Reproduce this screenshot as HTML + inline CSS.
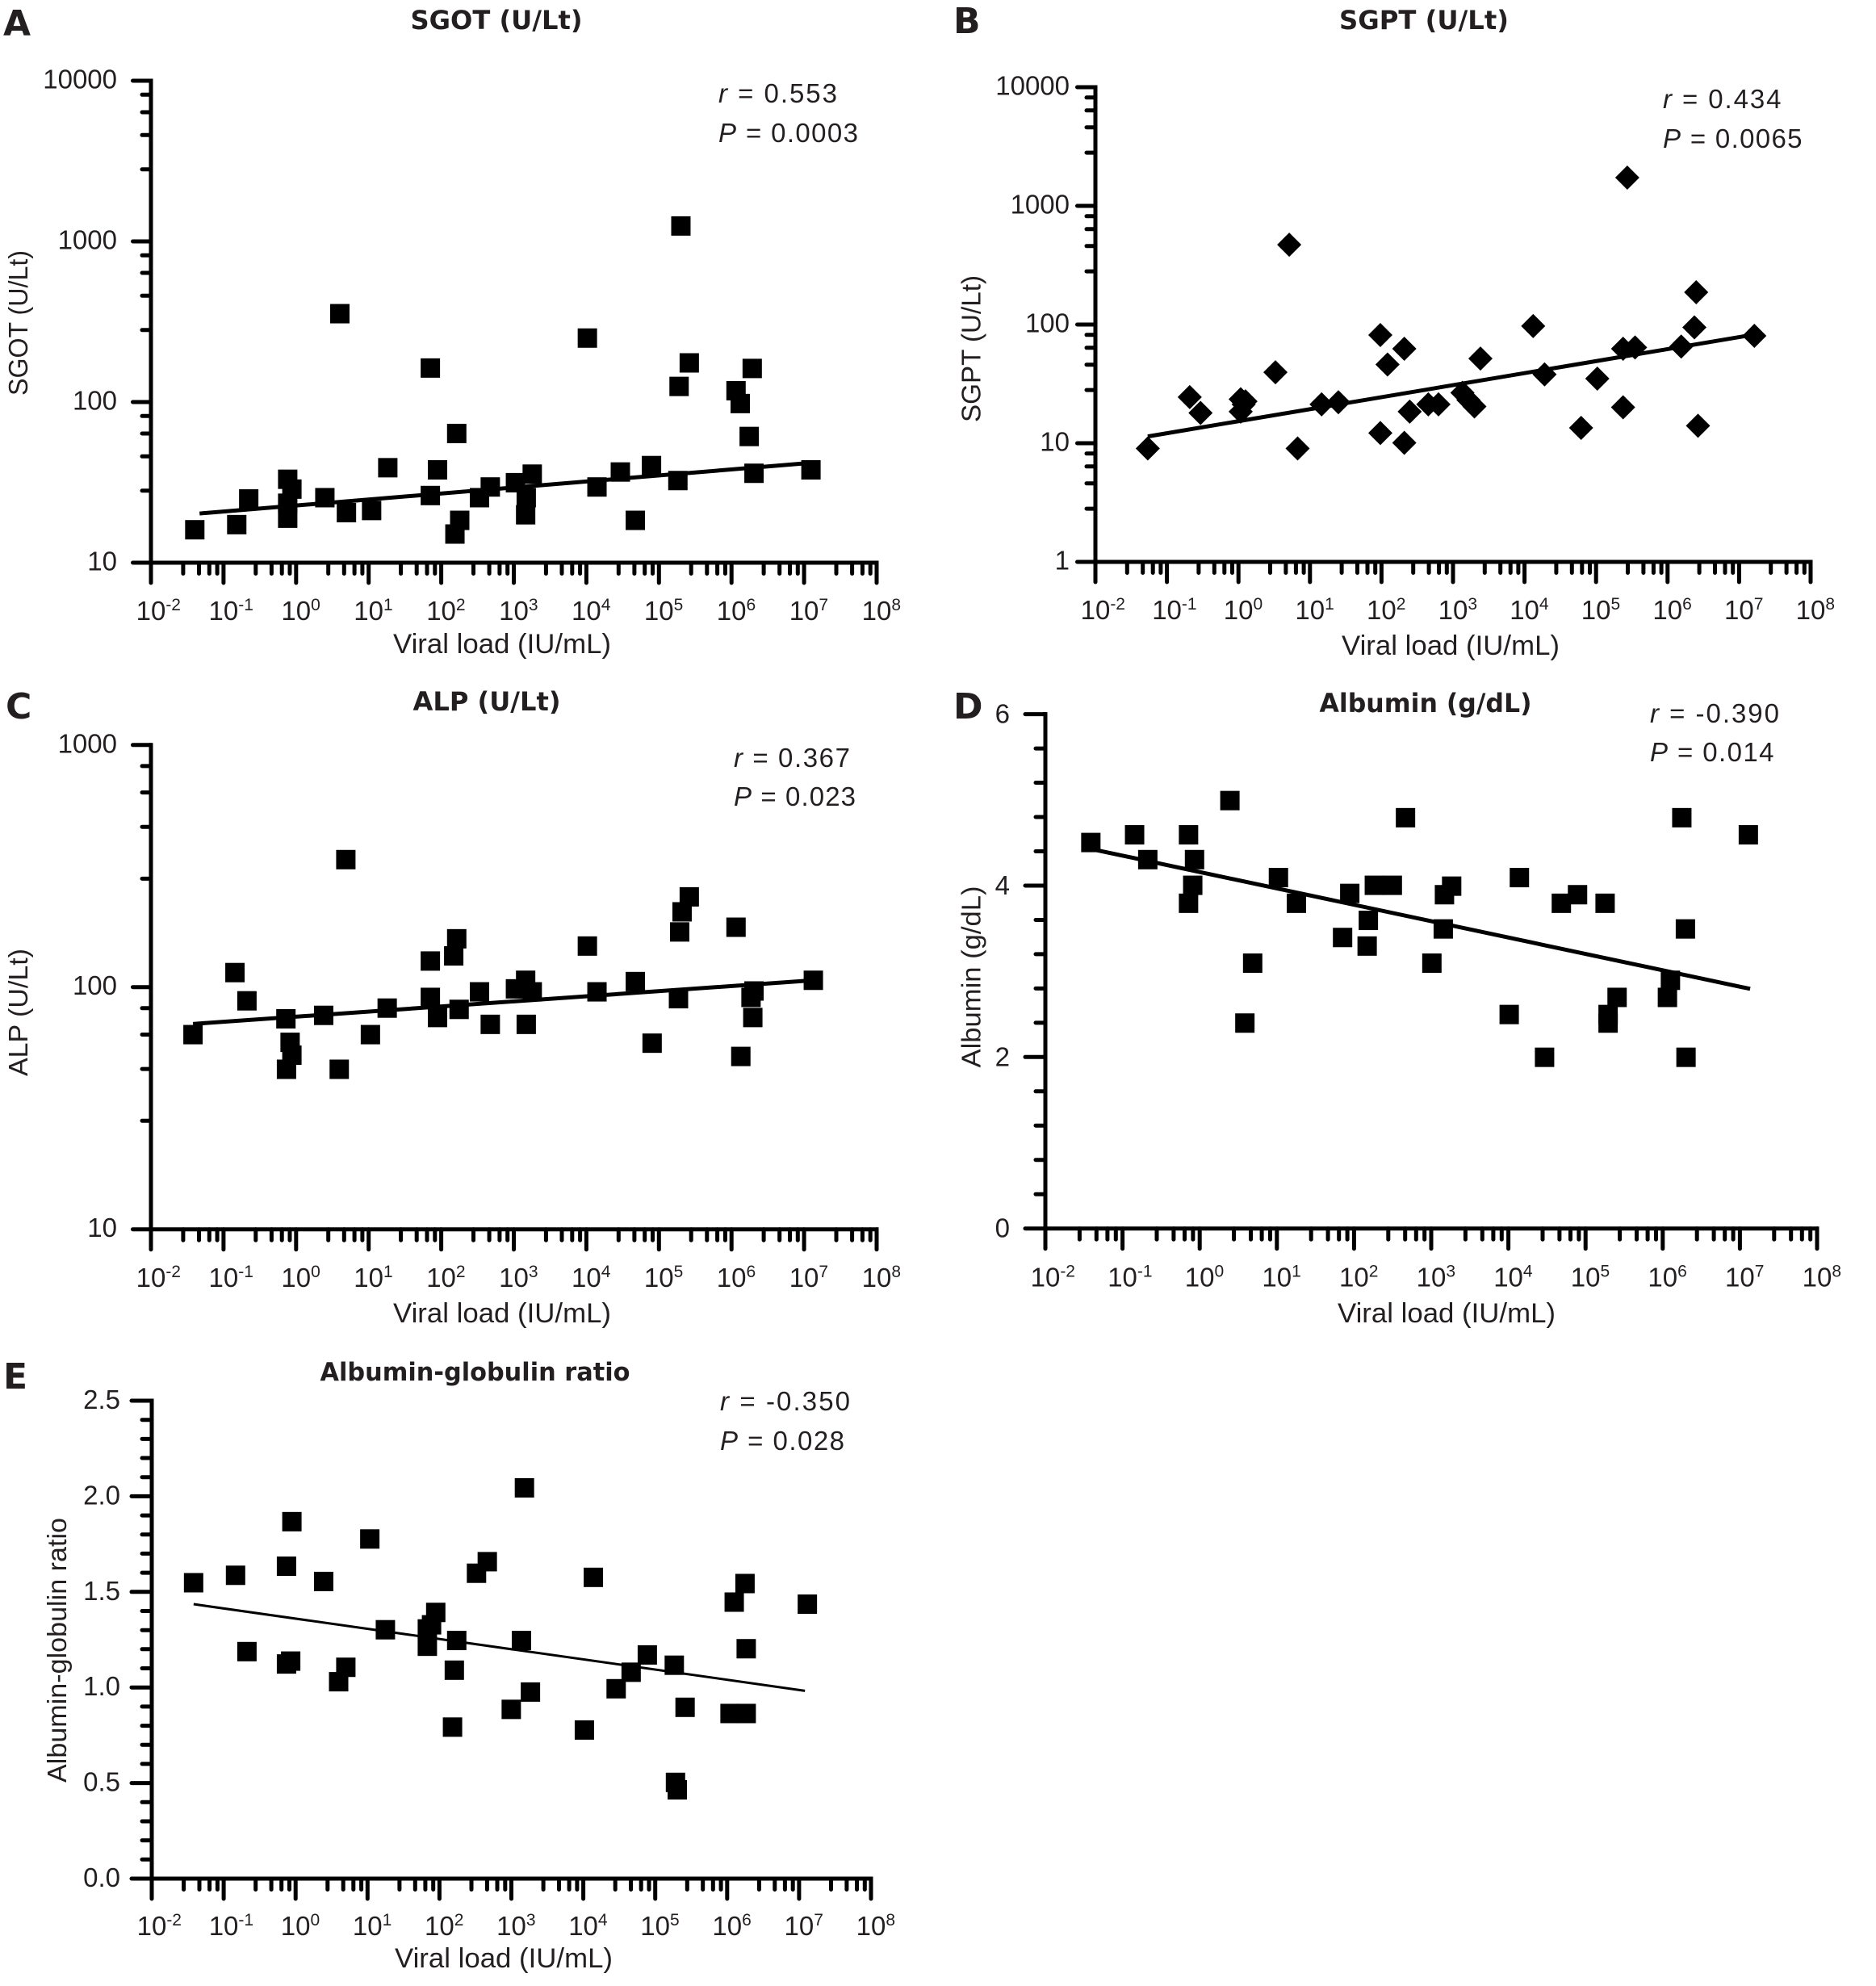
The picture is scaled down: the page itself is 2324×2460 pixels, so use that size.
<!DOCTYPE html>
<html>
<head>
<meta charset="utf-8">
<style>
html,body{margin:0;padding:0;background:#fff;}
svg{display:block;}
.t{font-family:"Liberation Sans",Arial,sans-serif;fill:#231f20;}
.b{font-family:"DejaVu Sans","Liberation Sans",sans-serif;font-weight:bold;fill:#231f20;}
</style>
</head>
<body>
<svg xmlns="http://www.w3.org/2000/svg" xmlns:xlink="http://www.w3.org/1999/xlink" width="2324" height="2460" viewBox="0 0 2324 2460">
<defs>
  <rect id="sq" x="-16.15" y="-22.65" width="32.3" height="45.3"/>
  <rect id="sqE" x="-16.15" y="-23.5" width="32.3" height="47"/>
  <polygon id="dm" points="0,-28.3 20.2,0 0,28.3 -20.2,0"/>
  <path id="xdA" d="M39.9 0v13.5M59.5 0v13.5M72.3 0v13.5M82.1 0v13.5"/>
  <path id="xdB" d="M39.3 0v13.5M58.7 0v13.5M71.2 0v13.5M80.9 0v13.5"/>
  <path id="xdD" d="M42.4 0v13.5M63.3 0v13.5M76.9 0v13.5M87.3 0v13.5"/>
  <path id="xdE" d="M39.6 0v13.5M59.0 0v13.5M71.6 0v13.5M81.4 0v13.5"/>
  <path id="ydA" d="M0 17.3h-11M0 39.0h-11M0 67.3h-11M0 109.8h-11"/>
  <path id="ydB" d="M0 12.8h-11M0 28.8h-11M0 49.7h-11M0 81.1h-11"/>
  <path id="ydC" d="M0 26.1h-11M0 58.8h-11M0 101.4h-11M0 165.6h-11"/>
  <path id="ydD" d="M0 42.5h-12M0 84.9h-12M0 127.4h-12M0 169.9h-12"/>
  <path id="ydE" d="M0 23.7h-12M0 47.4h-12M0 71.0h-12M0 94.7h-12"/>
</defs>
<rect x="0" y="0" width="2324" height="2460" fill="#fff"/>

<!-- ================= PANEL A ================= -->
<g stroke="#000" stroke-width="5" fill="none" stroke-linecap="round">
  <path d="M187 100V697H1086" stroke-linejoin="miter" stroke-linecap="square"/>
  <path d="M187 100h-22.5M187 299h-22.5M187 498h-22.5M187 697h-22.5"/>
  <use href="#ydA" xlink:href="#ydA" x="187" y="100"/>
  <use href="#ydA" xlink:href="#ydA" x="187" y="299"/>
  <use href="#ydA" xlink:href="#ydA" x="187" y="498"/>
  <path d="M187 697v25M276.9 697v25M366.8 697v25M456.7 697v25M546.6 697v25M636.5 697v25M726.4 697v25M816.3 697v25M906.2 697v25M996.1 697v25M1086 697v25"/>
  <use href="#xdA" xlink:href="#xdA" x="187" y="697"/>
  <use href="#xdA" xlink:href="#xdA" x="276.9" y="697"/>
  <use href="#xdA" xlink:href="#xdA" x="366.8" y="697"/>
  <use href="#xdA" xlink:href="#xdA" x="456.7" y="697"/>
  <use href="#xdA" xlink:href="#xdA" x="546.6" y="697"/>
  <use href="#xdA" xlink:href="#xdA" x="636.5" y="697"/>
  <use href="#xdA" xlink:href="#xdA" x="726.4" y="697"/>
  <use href="#xdA" xlink:href="#xdA" x="816.3" y="697"/>
  <use href="#xdA" xlink:href="#xdA" x="906.2" y="697"/>
  <use href="#xdA" xlink:href="#xdA" x="996.1" y="697"/>
</g>
<g transform="translate(0,-1) scale(0.7425,0.53)" fill="#000">
  <path d="M333 1202L1350 1084" stroke="#000" stroke-width="5" vector-effect="non-scaling-stroke" fill="none"/>
  <use href="#sq" xlink:href="#sq" x="325" y="1240"/>
  <use href="#sq" xlink:href="#sq" x="395" y="1228"/>
  <use href="#sq" xlink:href="#sq" x="415" y="1168"/>
  <use href="#sq" xlink:href="#sq" x="480" y="1122"/>
  <use href="#sq" xlink:href="#sq" x="487" y="1145"/>
  <use href="#sq" xlink:href="#sq" x="480" y="1178"/>
  <use href="#sq" xlink:href="#sq" x="480" y="1213"/>
  <use href="#sq" xlink:href="#sq" x="542" y="1165"/>
  <use href="#sq" xlink:href="#sq" x="567" y="735"/>
  <use href="#sq" xlink:href="#sq" x="578" y="1200"/>
  <use href="#sq" xlink:href="#sq" x="620" y="1195"/>
  <use href="#sq" xlink:href="#sq" x="647" y="1095"/>
  <use href="#sq" xlink:href="#sq" x="718" y="862"/>
  <use href="#sq" xlink:href="#sq" x="718" y="1160"/>
  <use href="#sq" xlink:href="#sq" x="730" y="1100"/>
  <use href="#sq" xlink:href="#sq" x="762" y="1015"/>
  <use href="#sq" xlink:href="#sq" x="767" y="1218"/>
  <use href="#sq" xlink:href="#sq" x="759" y="1250"/>
  <use href="#sq" xlink:href="#sq" x="800" y="1165"/>
  <use href="#sq" xlink:href="#sq" x="818" y="1140"/>
  <use href="#sq" xlink:href="#sq" x="860" y="1130"/>
  <use href="#sq" xlink:href="#sq" x="878" y="1165"/>
  <use href="#sq" xlink:href="#sq" x="877" y="1205"/>
  <use href="#sq" xlink:href="#sq" x="888" y="1110"/>
  <use href="#sq" xlink:href="#sq" x="980" y="792"/>
  <use href="#sq" xlink:href="#sq" x="996" y="1140"/>
  <use href="#sq" xlink:href="#sq" x="1035" y="1105"/>
  <use href="#sq" xlink:href="#sq" x="1060" y="1218"/>
  <use href="#sq" xlink:href="#sq" x="1087" y="1090"/>
  <use href="#sq" xlink:href="#sq" x="1136" y="530"/>
  <use href="#sq" xlink:href="#sq" x="1133" y="905"/>
  <use href="#sq" xlink:href="#sq" x="1131" y="1125"/>
  <use href="#sq" xlink:href="#sq" x="1150" y="850"/>
  <use href="#sq" xlink:href="#sq" x="1228" y="915"/>
  <use href="#sq" xlink:href="#sq" x="1235" y="945"/>
  <use href="#sq" xlink:href="#sq" x="1255" y="863"/>
  <use href="#sq" xlink:href="#sq" x="1250" y="1022"/>
  <use href="#sq" xlink:href="#sq" x="1258" y="1108"/>
  <use href="#sq" xlink:href="#sq" x="1353" y="1100"/>
</g>
<text class="b" x="4" y="44" font-size="44">A</text>
<text class="b" x="615" y="36" font-size="32" text-anchor="middle" textLength="213" lengthAdjust="spacingAndGlyphs">SGOT (U/Lt)</text>
<g class="t" font-size="33" text-anchor="end">
  <text x="145" y="109.5">10000</text>
  <text x="145" y="308.5">1000</text>
  <text x="145" y="507.5">100</text>
  <text x="145" y="706.5">10</text>
</g>
<g class="t" font-size="33">
  <text x="168.6" y="768">10<tspan font-size="21" dy="-12">-2</tspan></text>
  <text x="258.5" y="768">10<tspan font-size="21" dy="-12">-1</tspan></text>
  <text x="348.4" y="768">10<tspan font-size="21" dy="-12">0</tspan></text>
  <text x="438.3" y="768">10<tspan font-size="21" dy="-12">1</tspan></text>
  <text x="528.2" y="768">10<tspan font-size="21" dy="-12">2</tspan></text>
  <text x="618.1" y="768">10<tspan font-size="21" dy="-12">3</tspan></text>
  <text x="708" y="768">10<tspan font-size="21" dy="-12">4</tspan></text>
  <text x="797.9" y="768">10<tspan font-size="21" dy="-12">5</tspan></text>
  <text x="887.8" y="768">10<tspan font-size="21" dy="-12">6</tspan></text>
  <text x="977.7" y="768">10<tspan font-size="21" dy="-12">7</tspan></text>
  <text x="1067.6" y="768">10<tspan font-size="21" dy="-12">8</tspan></text>
</g>
<text class="t" x="622" y="809" font-size="34" text-anchor="middle" textLength="270" lengthAdjust="spacingAndGlyphs">Viral load (IU/mL)</text>
<text class="t" transform="translate(34,400) rotate(-90)" font-size="33" text-anchor="middle" textLength="180" lengthAdjust="spacingAndGlyphs">SGOT (U/Lt)</text>
<text class="t" x="890" y="127" font-size="33" textLength="147" lengthAdjust="spacing"><tspan font-style="italic">r</tspan> = 0.553</text>
<text class="t" x="890" y="176" font-size="33" textLength="173" lengthAdjust="spacing"><tspan font-style="italic">P</tspan> = 0.0003</text>

<!-- ================= PANEL B ================= -->
<g stroke="#000" stroke-width="5" fill="none" stroke-linecap="round">
  <path d="M1357 108V696H2243" stroke-linejoin="miter" stroke-linecap="square"/>
  <path d="M1357 108h-22.5M1357 255h-22.5M1357 402h-22.5M1357 549h-22.5M1357 696h-22.5"/>
  <use href="#ydB" xlink:href="#ydB" x="1357" y="108"/>
  <use href="#ydB" xlink:href="#ydB" x="1357" y="255"/>
  <use href="#ydB" xlink:href="#ydB" x="1357" y="402"/>
  <use href="#ydB" xlink:href="#ydB" x="1357" y="549"/>
  <path d="M1357 696v25M1445.6 696v25M1534.2 696v25M1622.8 696v25M1711.4 696v25M1800 696v25M1888.6 696v25M1977.2 696v25M2065.8 696v25M2154.4 696v25M2243 696v25"/>
  <use href="#xdB" xlink:href="#xdB" x="1357" y="696"/>
  <use href="#xdB" xlink:href="#xdB" x="1445.6" y="696"/>
  <use href="#xdB" xlink:href="#xdB" x="1534.2" y="696"/>
  <use href="#xdB" xlink:href="#xdB" x="1622.8" y="696"/>
  <use href="#xdB" xlink:href="#xdB" x="1711.4" y="696"/>
  <use href="#xdB" xlink:href="#xdB" x="1800" y="696"/>
  <use href="#xdB" xlink:href="#xdB" x="1888.6" y="696"/>
  <use href="#xdB" xlink:href="#xdB" x="1977.2" y="696"/>
  <use href="#xdB" xlink:href="#xdB" x="2065.8" y="696"/>
  <use href="#xdB" xlink:href="#xdB" x="2154.4" y="696"/>
</g>
<g transform="translate(1162,0) scale(0.7425,0.53)" fill="#000">
  <path d="M350 1020L1357 783" stroke="#000" stroke-width="5" vector-effect="non-scaling-stroke" fill="none"/>
  <use href="#dm" xlink:href="#dm" x="350" y="1048"/>
  <use href="#dm" xlink:href="#dm" x="420" y="928"/>
  <use href="#dm" xlink:href="#dm" x="438" y="965"/>
  <use href="#dm" xlink:href="#dm" x="505" y="933"/>
  <use href="#dm" xlink:href="#dm" x="505" y="962"/>
  <use href="#dm" xlink:href="#dm" x="510" y="945"/>
  <use href="#dm" xlink:href="#dm" x="513" y="938"/>
  <use href="#dm" xlink:href="#dm" x="563" y="870"/>
  <use href="#dm" xlink:href="#dm" x="586" y="572"/>
  <use href="#dm" xlink:href="#dm" x="600" y="1048"/>
  <use href="#dm" xlink:href="#dm" x="640" y="945"/>
  <use href="#dm" xlink:href="#dm" x="668" y="940"/>
  <use href="#dm" xlink:href="#dm" x="738" y="783"/>
  <use href="#dm" xlink:href="#dm" x="738" y="1012"/>
  <use href="#dm" xlink:href="#dm" x="750" y="852"/>
  <use href="#dm" xlink:href="#dm" x="778" y="815"/>
  <use href="#dm" xlink:href="#dm" x="778" y="1035"/>
  <use href="#dm" xlink:href="#dm" x="787" y="962"/>
  <use href="#dm" xlink:href="#dm" x="818" y="945"/>
  <use href="#dm" xlink:href="#dm" x="835" y="945"/>
  <use href="#dm" xlink:href="#dm" x="875" y="918"/>
  <use href="#dm" xlink:href="#dm" x="885" y="935"/>
  <use href="#dm" xlink:href="#dm" x="895" y="950"/>
  <use href="#dm" xlink:href="#dm" x="905" y="838"/>
  <use href="#dm" xlink:href="#dm" x="993" y="762"/>
  <use href="#dm" xlink:href="#dm" x="1012" y="875"/>
  <use href="#dm" xlink:href="#dm" x="1073" y="1000"/>
  <use href="#dm" xlink:href="#dm" x="1100" y="885"/>
  <use href="#dm" xlink:href="#dm" x="1143" y="952"/>
  <use href="#dm" xlink:href="#dm" x="1143" y="815"/>
  <use href="#dm" xlink:href="#dm" x="1150" y="415"/>
  <use href="#dm" xlink:href="#dm" x="1163" y="812"/>
  <use href="#dm" xlink:href="#dm" x="1240" y="810"/>
  <use href="#dm" xlink:href="#dm" x="1262" y="765"/>
  <use href="#dm" xlink:href="#dm" x="1265" y="683"/>
  <use href="#dm" xlink:href="#dm" x="1268" y="995"/>
  <use href="#dm" xlink:href="#dm" x="1362" y="785"/>
</g>
<text class="b" x="1181" y="41" font-size="44">B</text>
<text class="b" x="1764" y="36" font-size="32" text-anchor="middle" textLength="210" lengthAdjust="spacingAndGlyphs">SGPT (U/Lt)</text>
<g class="t" font-size="33" text-anchor="end">
  <text x="1325" y="117.5">10000</text>
  <text x="1325" y="264.5">1000</text>
  <text x="1325" y="411.5">100</text>
  <text x="1325" y="558.5">10</text>
  <text x="1325" y="705.5">1</text>
</g>
<g class="t" font-size="33">
  <text x="1338.6" y="767">10<tspan font-size="21" dy="-12">-2</tspan></text>
  <text x="1427.2" y="767">10<tspan font-size="21" dy="-12">-1</tspan></text>
  <text x="1515.8" y="767">10<tspan font-size="21" dy="-12">0</tspan></text>
  <text x="1604.4" y="767">10<tspan font-size="21" dy="-12">1</tspan></text>
  <text x="1693" y="767">10<tspan font-size="21" dy="-12">2</tspan></text>
  <text x="1781.6" y="767">10<tspan font-size="21" dy="-12">3</tspan></text>
  <text x="1870.2" y="767">10<tspan font-size="21" dy="-12">4</tspan></text>
  <text x="1958.8" y="767">10<tspan font-size="21" dy="-12">5</tspan></text>
  <text x="2047.4" y="767">10<tspan font-size="21" dy="-12">6</tspan></text>
  <text x="2136" y="767">10<tspan font-size="21" dy="-12">7</tspan></text>
  <text x="2224.6" y="767">10<tspan font-size="21" dy="-12">8</tspan></text>
</g>
<text class="t" x="1797" y="811" font-size="34" text-anchor="middle" textLength="270" lengthAdjust="spacingAndGlyphs">Viral load (IU/mL)</text>
<text class="t" transform="translate(1214.5,432) rotate(-90)" font-size="33" text-anchor="middle" textLength="182" lengthAdjust="spacingAndGlyphs">SGPT (U/Lt)</text>
<text class="t" x="2060" y="134" font-size="33" textLength="146.5" lengthAdjust="spacing"><tspan font-style="italic">r</tspan> = 0.434</text>
<text class="t" x="2060" y="183" font-size="33" textLength="172.5" lengthAdjust="spacing"><tspan font-style="italic">P</tspan> = 0.0065</text>

<!-- ================= PANEL C ================= -->
<g stroke="#000" stroke-width="5" fill="none" stroke-linecap="round">
  <path d="M187 922.8V1522.7H1086" stroke-linejoin="miter" stroke-linecap="square"/>
  <path d="M187 922.8h-22.5M187 1222.7h-22.5M187 1522.7h-22.5"/>
  <use href="#ydC" xlink:href="#ydC" x="187" y="922.8"/>
  <use href="#ydC" xlink:href="#ydC" x="187" y="1222.7"/>
  <path d="M187 1522.7v25M276.9 1522.7v25M366.8 1522.7v25M456.7 1522.7v25M546.6 1522.7v25M636.5 1522.7v25M726.4 1522.7v25M816.3 1522.7v25M906.2 1522.7v25M996.1 1522.7v25M1086 1522.7v25"/>
  <use href="#xdA" xlink:href="#xdA" x="187" y="1522.7"/>
  <use href="#xdA" xlink:href="#xdA" x="276.9" y="1522.7"/>
  <use href="#xdA" xlink:href="#xdA" x="366.8" y="1522.7"/>
  <use href="#xdA" xlink:href="#xdA" x="456.7" y="1522.7"/>
  <use href="#xdA" xlink:href="#xdA" x="546.6" y="1522.7"/>
  <use href="#xdA" xlink:href="#xdA" x="636.5" y="1522.7"/>
  <use href="#xdA" xlink:href="#xdA" x="726.4" y="1522.7"/>
  <use href="#xdA" xlink:href="#xdA" x="816.3" y="1522.7"/>
  <use href="#xdA" xlink:href="#xdA" x="906.2" y="1522.7"/>
  <use href="#xdA" xlink:href="#xdA" x="996.1" y="1522.7"/>
</g>
<g transform="translate(0,830) scale(0.7425,0.53)" fill="#000">
  <path d="M322 827L1357 725" stroke="#000" stroke-width="5" vector-effect="non-scaling-stroke" fill="none"/>
  <use href="#sq" xlink:href="#sq" x="322" y="852"/>
  <use href="#sq" xlink:href="#sq" x="392" y="707"/>
  <use href="#sq" xlink:href="#sq" x="412" y="773"/>
  <use href="#sq" xlink:href="#sq" x="477" y="815"/>
  <use href="#sq" xlink:href="#sq" x="484" y="870"/>
  <use href="#sq" xlink:href="#sq" x="487" y="900"/>
  <use href="#sq" xlink:href="#sq" x="478" y="933"/>
  <use href="#sq" xlink:href="#sq" x="540" y="807"/>
  <use href="#sq" xlink:href="#sq" x="566" y="933"/>
  <use href="#sq" xlink:href="#sq" x="577" y="443"/>
  <use href="#sq" xlink:href="#sq" x="618" y="852"/>
  <use href="#sq" xlink:href="#sq" x="646" y="790"/>
  <use href="#sq" xlink:href="#sq" x="718" y="680"/>
  <use href="#sq" xlink:href="#sq" x="718" y="765"/>
  <use href="#sq" xlink:href="#sq" x="730" y="812"/>
  <use href="#sq" xlink:href="#sq" x="757" y="668"/>
  <use href="#sq" xlink:href="#sq" x="762" y="628"/>
  <use href="#sq" xlink:href="#sq" x="766" y="793"/>
  <use href="#sq" xlink:href="#sq" x="800" y="752"/>
  <use href="#sq" xlink:href="#sq" x="818" y="828"/>
  <use href="#sq" xlink:href="#sq" x="860" y="745"/>
  <use href="#sq" xlink:href="#sq" x="877" y="725"/>
  <use href="#sq" xlink:href="#sq" x="878" y="828"/>
  <use href="#sq" xlink:href="#sq" x="888" y="752"/>
  <use href="#sq" xlink:href="#sq" x="980" y="645"/>
  <use href="#sq" xlink:href="#sq" x="996" y="752"/>
  <use href="#sq" xlink:href="#sq" x="1060" y="728"/>
  <use href="#sq" xlink:href="#sq" x="1088" y="872"/>
  <use href="#sq" xlink:href="#sq" x="1132" y="768"/>
  <use href="#sq" xlink:href="#sq" x="1134" y="612"/>
  <use href="#sq" xlink:href="#sq" x="1138" y="565"/>
  <use href="#sq" xlink:href="#sq" x="1150" y="530"/>
  <use href="#sq" xlink:href="#sq" x="1228" y="601"/>
  <use href="#sq" xlink:href="#sq" x="1236" y="903"/>
  <use href="#sq" xlink:href="#sq" x="1253" y="765"/>
  <use href="#sq" xlink:href="#sq" x="1258" y="750"/>
  <use href="#sq" xlink:href="#sq" x="1256" y="812"/>
  <use href="#sq" xlink:href="#sq" x="1357" y="725"/>
</g>
<text class="b" x="7" y="890" font-size="44">C</text>
<text class="b" x="603" y="880" font-size="32" text-anchor="middle" textLength="183" lengthAdjust="spacingAndGlyphs">ALP (U/Lt)</text>
<g class="t" font-size="33" text-anchor="end">
  <text x="145" y="932.3">1000</text>
  <text x="145" y="1232.2">100</text>
  <text x="145" y="1532.2">10</text>
</g>
<g class="t" font-size="33">
  <text x="168.6" y="1594">10<tspan font-size="21" dy="-12">-2</tspan></text>
  <text x="258.5" y="1594">10<tspan font-size="21" dy="-12">-1</tspan></text>
  <text x="348.4" y="1594">10<tspan font-size="21" dy="-12">0</tspan></text>
  <text x="438.3" y="1594">10<tspan font-size="21" dy="-12">1</tspan></text>
  <text x="528.2" y="1594">10<tspan font-size="21" dy="-12">2</tspan></text>
  <text x="618.1" y="1594">10<tspan font-size="21" dy="-12">3</tspan></text>
  <text x="708" y="1594">10<tspan font-size="21" dy="-12">4</tspan></text>
  <text x="797.9" y="1594">10<tspan font-size="21" dy="-12">5</tspan></text>
  <text x="887.8" y="1594">10<tspan font-size="21" dy="-12">6</tspan></text>
  <text x="977.7" y="1594">10<tspan font-size="21" dy="-12">7</tspan></text>
  <text x="1067.6" y="1594">10<tspan font-size="21" dy="-12">8</tspan></text>
</g>
<text class="t" x="622" y="1638" font-size="34" text-anchor="middle" textLength="270" lengthAdjust="spacingAndGlyphs">Viral load (IU/mL)</text>
<text class="t" transform="translate(34,1254) rotate(-90)" font-size="33" text-anchor="middle" textLength="158" lengthAdjust="spacingAndGlyphs">ALP (U/Lt)</text>
<text class="t" x="909" y="950" font-size="33" textLength="144" lengthAdjust="spacing"><tspan font-style="italic">r</tspan> = 0.367</text>
<text class="t" x="909" y="998" font-size="33" textLength="151" lengthAdjust="spacing"><tspan font-style="italic">P</tspan> = 0.023</text>

<!-- ================= PANEL D ================= -->
<g stroke="#000" stroke-width="5" fill="none" stroke-linecap="round">
  <path d="M1295 884.6V1521.7H2251" stroke-linejoin="miter" stroke-linecap="square"/>
  <path d="M1295 884.6h-25M1295 1097h-25M1295 1309.3h-25M1295 1521.7h-25"/>
  <use href="#ydD" xlink:href="#ydD" x="1295" y="884.6"/>
  <use href="#ydD" xlink:href="#ydD" x="1295" y="1097"/>
  <use href="#ydD" xlink:href="#ydD" x="1295" y="1309.3"/>
  <path d="M1295 1521.7v25M1390.6 1521.7v25M1486.2 1521.7v25M1581.8 1521.7v25M1677.4 1521.7v25M1773 1521.7v25M1868.6 1521.7v25M1964.2 1521.7v25M2059.8 1521.7v25M2155.4 1521.7v25M2251 1521.7v25"/>
  <use href="#xdD" xlink:href="#xdD" x="1295" y="1521.7"/>
  <use href="#xdD" xlink:href="#xdD" x="1390.6" y="1521.7"/>
  <use href="#xdD" xlink:href="#xdD" x="1486.2" y="1521.7"/>
  <use href="#xdD" xlink:href="#xdD" x="1581.8" y="1521.7"/>
  <use href="#xdD" xlink:href="#xdD" x="1677.4" y="1521.7"/>
  <use href="#xdD" xlink:href="#xdD" x="1773" y="1521.7"/>
  <use href="#xdD" xlink:href="#xdD" x="1868.6" y="1521.7"/>
  <use href="#xdD" xlink:href="#xdD" x="1964.2" y="1521.7"/>
  <use href="#xdD" xlink:href="#xdD" x="2059.8" y="1521.7"/>
  <use href="#xdD" xlink:href="#xdD" x="2155.4" y="1521.7"/>
</g>
<g transform="translate(1162,830) scale(0.7425,0.53)" fill="#000">
  <path d="M255 418L1355 745" stroke="#000" stroke-width="5" vector-effect="non-scaling-stroke" fill="none"/>
  <use href="#sq" xlink:href="#sq" x="255" y="403"/>
  <use href="#sq" xlink:href="#sq" x="328" y="385"/>
  <use href="#sq" xlink:href="#sq" x="350" y="443"/>
  <use href="#sq" xlink:href="#sq" x="418" y="385"/>
  <use href="#sq" xlink:href="#sq" x="428" y="443"/>
  <use href="#sq" xlink:href="#sq" x="425" y="503"/>
  <use href="#sq" xlink:href="#sq" x="418" y="545"/>
  <use href="#sq" xlink:href="#sq" x="487" y="305"/>
  <use href="#sq" xlink:href="#sq" x="525" y="685"/>
  <use href="#sq" xlink:href="#sq" x="512" y="825"/>
  <use href="#sq" xlink:href="#sq" x="568" y="485"/>
  <use href="#sq" xlink:href="#sq" x="598" y="545"/>
  <use href="#sq" xlink:href="#sq" x="675" y="625"/>
  <use href="#sq" xlink:href="#sq" x="687" y="522"/>
  <use href="#sq" xlink:href="#sq" x="718" y="585"/>
  <use href="#sq" xlink:href="#sq" x="716" y="645"/>
  <use href="#sq" xlink:href="#sq" x="728" y="503"/>
  <use href="#sq" xlink:href="#sq" x="758" y="503"/>
  <use href="#sq" xlink:href="#sq" x="780" y="345"/>
  <use href="#sq" xlink:href="#sq" x="824" y="685"/>
  <use href="#sq" xlink:href="#sq" x="845" y="525"/>
  <use href="#sq" xlink:href="#sq" x="843" y="605"/>
  <use href="#sq" xlink:href="#sq" x="857" y="505"/>
  <use href="#sq" xlink:href="#sq" x="953" y="805"/>
  <use href="#sq" xlink:href="#sq" x="970" y="485"/>
  <use href="#sq" xlink:href="#sq" x="1012" y="905"/>
  <use href="#sq" xlink:href="#sq" x="1040" y="545"/>
  <use href="#sq" xlink:href="#sq" x="1067" y="525"/>
  <use href="#sq" xlink:href="#sq" x="1113" y="545"/>
  <use href="#sq" xlink:href="#sq" x="1118" y="805"/>
  <use href="#sq" xlink:href="#sq" x="1118" y="825"/>
  <use href="#sq" xlink:href="#sq" x="1133" y="765"/>
  <use href="#sq" xlink:href="#sq" x="1217" y="765"/>
  <use href="#sq" xlink:href="#sq" x="1222" y="725"/>
  <use href="#sq" xlink:href="#sq" x="1241" y="345"/>
  <use href="#sq" xlink:href="#sq" x="1247" y="605"/>
  <use href="#sq" xlink:href="#sq" x="1248" y="905"/>
  <use href="#sq" xlink:href="#sq" x="1352" y="385"/>
</g>
<text class="b" x="1181" y="890" font-size="44">D</text>
<text class="b" x="1766" y="882" font-size="32" text-anchor="middle" textLength="263" lengthAdjust="spacingAndGlyphs">Albumin (g/dL)</text>
<g class="t" font-size="33" text-anchor="end">
  <text x="1251" y="895.6">6</text>
  <text x="1251" y="1108">4</text>
  <text x="1251" y="1320.3">2</text>
  <text x="1251" y="1532.7">0</text>
</g>
<g class="t" font-size="33">
  <text x="1276.6" y="1593.7">10<tspan font-size="21" dy="-12">-2</tspan></text>
  <text x="1372.2" y="1593.7">10<tspan font-size="21" dy="-12">-1</tspan></text>
  <text x="1467.8" y="1593.7">10<tspan font-size="21" dy="-12">0</tspan></text>
  <text x="1563.4" y="1593.7">10<tspan font-size="21" dy="-12">1</tspan></text>
  <text x="1659" y="1593.7">10<tspan font-size="21" dy="-12">2</tspan></text>
  <text x="1754.6" y="1593.7">10<tspan font-size="21" dy="-12">3</tspan></text>
  <text x="1850.2" y="1593.7">10<tspan font-size="21" dy="-12">4</tspan></text>
  <text x="1945.8" y="1593.7">10<tspan font-size="21" dy="-12">5</tspan></text>
  <text x="2041.4" y="1593.7">10<tspan font-size="21" dy="-12">6</tspan></text>
  <text x="2137" y="1593.7">10<tspan font-size="21" dy="-12">7</tspan></text>
  <text x="2232.6" y="1593.7">10<tspan font-size="21" dy="-12">8</tspan></text>
</g>
<text class="t" x="1792" y="1638" font-size="34" text-anchor="middle" textLength="270" lengthAdjust="spacingAndGlyphs">Viral load (IU/mL)</text>
<text class="t" transform="translate(1214.5,1210) rotate(-90)" font-size="33" text-anchor="middle" textLength="225" lengthAdjust="spacingAndGlyphs">Albumin (g/dL)</text>
<text class="t" x="2044" y="895" font-size="33" textLength="160" lengthAdjust="spacing"><tspan font-style="italic">r</tspan> = -0.390</text>
<text class="t" x="2044" y="943" font-size="33" textLength="153.5" lengthAdjust="spacing"><tspan font-style="italic">P</tspan> = 0.014</text>

<!-- ================= PANEL E ================= -->
<g stroke="#000" stroke-width="5" fill="none" stroke-linecap="round">
  <path d="M188 1735V2327H1079" stroke-linejoin="miter" stroke-linecap="square"/>
  <path d="M188 1735h-25M188 1853.4h-25M188 1971.8h-25M188 2090.2h-25M188 2208.6h-25M188 2327h-25"/>
  <use href="#ydE" xlink:href="#ydE" x="188" y="1735"/>
  <use href="#ydE" xlink:href="#ydE" x="188" y="1853.4"/>
  <use href="#ydE" xlink:href="#ydE" x="188" y="1971.8"/>
  <use href="#ydE" xlink:href="#ydE" x="188" y="2090.2"/>
  <use href="#ydE" xlink:href="#ydE" x="188" y="2208.6"/>
  <path d="M188 2327v25M277.1 2327v25M366.2 2327v25M455.3 2327v25M544.4 2327v25M633.5 2327v25M722.6 2327v25M811.7 2327v25M900.8 2327v25M989.9 2327v25M1079 2327v25"/>
  <use href="#xdE" xlink:href="#xdE" x="188" y="2327"/>
  <use href="#xdE" xlink:href="#xdE" x="277.1" y="2327"/>
  <use href="#xdE" xlink:href="#xdE" x="366.2" y="2327"/>
  <use href="#xdE" xlink:href="#xdE" x="455.3" y="2327"/>
  <use href="#xdE" xlink:href="#xdE" x="544.4" y="2327"/>
  <use href="#xdE" xlink:href="#xdE" x="633.5" y="2327"/>
  <use href="#xdE" xlink:href="#xdE" x="722.6" y="2327"/>
  <use href="#xdE" xlink:href="#xdE" x="811.7" y="2327"/>
  <use href="#xdE" xlink:href="#xdE" x="900.8" y="2327"/>
  <use href="#xdE" xlink:href="#xdE" x="989.9" y="2327"/>
</g>
<g transform="translate(0,1660) scale(0.7425,0.511)" fill="#000">
  <path d="M323 640L1343 850" stroke="#000" stroke-width="3" vector-effect="non-scaling-stroke" fill="none"/>
  <use href="#sqE" xlink:href="#sqE" x="323" y="588"/>
  <use href="#sqE" xlink:href="#sqE" x="393" y="570"/>
  <use href="#sqE" xlink:href="#sqE" x="412" y="755"/>
  <use href="#sqE" xlink:href="#sqE" x="478" y="548"/>
  <use href="#sqE" xlink:href="#sqE" x="478" y="785"/>
  <use href="#sqE" xlink:href="#sqE" x="487" y="440"/>
  <use href="#sqE" xlink:href="#sqE" x="485" y="778"/>
  <use href="#sqE" xlink:href="#sqE" x="540" y="585"/>
  <use href="#sqE" xlink:href="#sqE" x="565" y="828"/>
  <use href="#sqE" xlink:href="#sqE" x="577" y="793"/>
  <use href="#sqE" xlink:href="#sqE" x="617" y="482"/>
  <use href="#sqE" xlink:href="#sqE" x="643" y="702"/>
  <use href="#sqE" xlink:href="#sqE" x="713" y="742"/>
  <use href="#sqE" xlink:href="#sqE" x="713" y="700"/>
  <use href="#sqE" xlink:href="#sqE" x="720" y="690"/>
  <use href="#sqE" xlink:href="#sqE" x="727" y="660"/>
  <use href="#sqE" xlink:href="#sqE" x="762" y="728"/>
  <use href="#sqE" xlink:href="#sqE" x="758" y="800"/>
  <use href="#sqE" xlink:href="#sqE" x="755" y="938"/>
  <use href="#sqE" xlink:href="#sqE" x="795" y="565"/>
  <use href="#sqE" xlink:href="#sqE" x="813" y="537"/>
  <use href="#sqE" xlink:href="#sqE" x="853" y="895"/>
  <use href="#sqE" xlink:href="#sqE" x="870" y="728"/>
  <use href="#sqE" xlink:href="#sqE" x="875" y="358"/>
  <use href="#sqE" xlink:href="#sqE" x="885" y="853"/>
  <use href="#sqE" xlink:href="#sqE" x="975" y="945"/>
  <use href="#sqE" xlink:href="#sqE" x="990" y="575"/>
  <use href="#sqE" xlink:href="#sqE" x="1028" y="845"/>
  <use href="#sqE" xlink:href="#sqE" x="1053" y="805"/>
  <use href="#sqE" xlink:href="#sqE" x="1080" y="763"/>
  <use href="#sqE" xlink:href="#sqE" x="1125" y="788"/>
  <use href="#sqE" xlink:href="#sqE" x="1127" y="1072"/>
  <use href="#sqE" xlink:href="#sqE" x="1130" y="1090"/>
  <use href="#sqE" xlink:href="#sqE" x="1143" y="890"/>
  <use href="#sqE" xlink:href="#sqE" x="1225" y="635"/>
  <use href="#sqE" xlink:href="#sqE" x="1243" y="590"/>
  <use href="#sqE" xlink:href="#sqE" x="1245" y="748"/>
  <use href="#sqE" xlink:href="#sqE" x="1218" y="905"/>
  <use href="#sqE" xlink:href="#sqE" x="1245" y="905"/>
  <use href="#sqE" xlink:href="#sqE" x="1347" y="640"/>
</g>
<text class="b" x="4" y="1720" font-size="44">E</text>
<text class="b" x="588.5" y="1710" font-size="31" text-anchor="middle" textLength="384" lengthAdjust="spacingAndGlyphs">Albumin-globulin ratio</text>
<g class="t" font-size="33" text-anchor="end">
  <text x="149" y="1745">2.5</text>
  <text x="149" y="1863.4">2.0</text>
  <text x="149" y="1981.8">1.5</text>
  <text x="149" y="2100.2">1.0</text>
  <text x="149" y="2218.6">0.5</text>
  <text x="149" y="2337">0.0</text>
</g>
<g class="t" font-size="33">
  <text x="169.6" y="2397">10<tspan font-size="21" dy="-12">-2</tspan></text>
  <text x="258.7" y="2397">10<tspan font-size="21" dy="-12">-1</tspan></text>
  <text x="347.8" y="2397">10<tspan font-size="21" dy="-12">0</tspan></text>
  <text x="436.9" y="2397">10<tspan font-size="21" dy="-12">1</tspan></text>
  <text x="526" y="2397">10<tspan font-size="21" dy="-12">2</tspan></text>
  <text x="615.1" y="2397">10<tspan font-size="21" dy="-12">3</tspan></text>
  <text x="704.2" y="2397">10<tspan font-size="21" dy="-12">4</tspan></text>
  <text x="793.3" y="2397">10<tspan font-size="21" dy="-12">5</tspan></text>
  <text x="882.4" y="2397">10<tspan font-size="21" dy="-12">6</tspan></text>
  <text x="971.5" y="2397">10<tspan font-size="21" dy="-12">7</tspan></text>
  <text x="1060.6" y="2397">10<tspan font-size="21" dy="-12">8</tspan></text>
</g>
<text class="t" x="624" y="2437" font-size="34" text-anchor="middle" textLength="270" lengthAdjust="spacingAndGlyphs">Viral load (IU/mL)</text>
<text class="t" transform="translate(82,2044) rotate(-90)" font-size="33" text-anchor="middle" textLength="328" lengthAdjust="spacingAndGlyphs">Albumin-globulin ratio</text>
<text class="t" x="892" y="1747" font-size="33" textLength="161" lengthAdjust="spacing"><tspan font-style="italic">r</tspan> = -0.350</text>
<text class="t" x="892" y="1796" font-size="33" textLength="154" lengthAdjust="spacing"><tspan font-style="italic">P</tspan> = 0.028</text>
</svg>
</body>
</html>
